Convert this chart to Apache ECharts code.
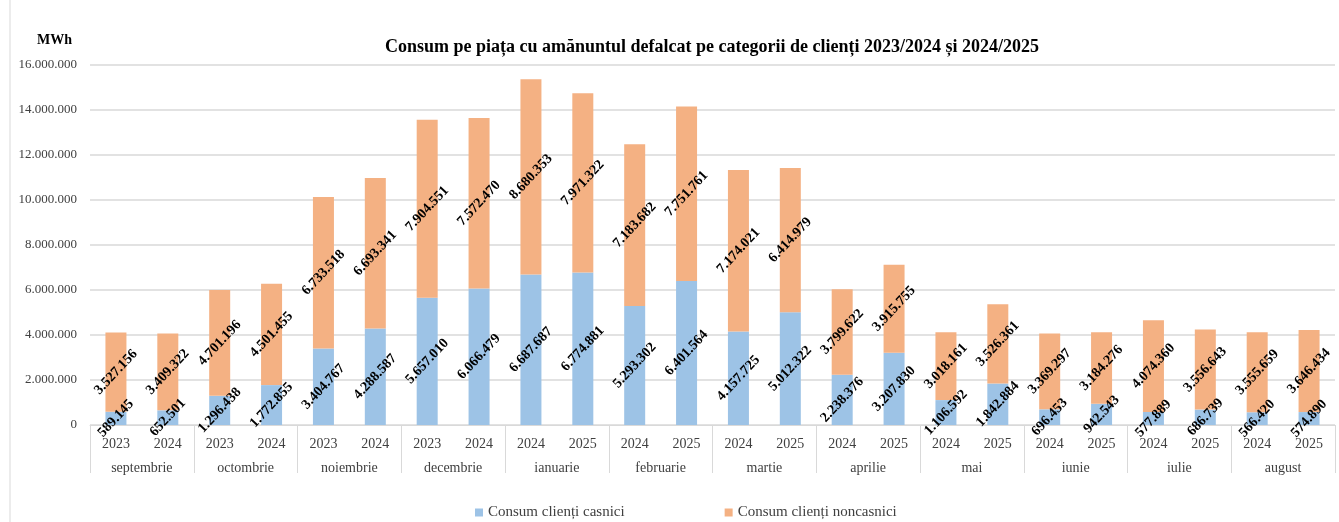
<!DOCTYPE html>
<html>
<head>
<meta charset="utf-8">
<script src="https://cdn.jsdelivr.net/npm/echarts@6/dist/echarts.min.js"></script>
<style>
  html, body { margin: 0; padding: 0; background: #fff; }
  #chart { width: 1339px; height: 522px; }
</style>
</head>
<body>
<div id="chart"></div>
<script>
const years = ["2023", "2024", "2023", "2024", "2023", "2024", "2023", "2024",
  "2024", "2025", "2024", "2025", "2024", "2025", "2024", "2025",
  "2024", "2025", "2024", "2025", "2024", "2025", "2024", "2025"];
const months = ["septembrie", "octombrie", "noiembrie", "decembrie", "ianuarie", "februarie",
  "martie", "aprilie", "mai", "iunie", "iulie", "august"];
// consum clienti casnici (MWh)
const casnici = [589145, 652501, 1296438, 1772855, 3404767, 4288587, 5657010, 6066479,
  6687687, 6774881, 5293302, 6401564, 4157725, 5012322, 2238376, 3207830,
  1106592, 1842884, 696453, 942543, 577889, 686739, 566420, 574890];
// consum clienti noncasnici (MWh)
const noncasnici = [3527156, 3409322, 4701196, 4501455, 6733518, 6693341, 7904551, 7572470,
  8680353, 7971322, 7183682, 7751761, 7174021, 6414979, 3799622, 3915755,
  3018161, 3526361, 3369297, 3184276, 4074360, 3556643, 3555659, 3646434];
const yTicks = [0, 2000000, 4000000, 6000000, 8000000, 10000000, 12000000, 14000000, 16000000];

const serif = "'Liberation Serif', 'Times New Roman', serif";

// 1234567 -> 1.234.567
function fmt(v) {
  return String(v).replace(/\B(?=(\d{3})+(?!\d))/g, ".");
}

const chart = echarts.init(document.getElementById("chart"));

const barLabel = {
  show: true,
  position: "inside",
  rotate: 47,
  fontFamily: serif,
  fontWeight: "bold",
  fontSize: 14,
  color: "#000",
  formatter: (p) => fmt(p.value),
};

chart.setOption({
  backgroundColor: "#fff",
  animation: false,
  title: {
    text: "Consum pe piața cu amănuntul defalcat pe categorii de clienți 2023/2024 și 2024/2025",
    left: 380,
    top: 33,
    textStyle: { fontFamily: serif, fontWeight: "bold", fontSize: 18, color: "#000" },
  },
  graphic: [
    {
      type: "text",
      left: 37,
      top: 33,
      style: { text: "MWh", font: "bold 14px " + serif, fill: "#000" },
    },
    {
      type: "line",
      shape: { x1: 10, y1: 0, x2: 10, y2: 522 },
      style: { stroke: "#d9d9d9", lineWidth: 1 },
    },
  ],
  legend: {
    left: 470,
    top: 500,
    itemWidth: 8,
    itemHeight: 8,
    itemGap: 100,
    icon: "rect",
    textStyle: { fontFamily: serif, fontSize: 15, color: "#404040" },
    data: ["Consum clienți casnici", "Consum clienți noncasnici"],
  },
  grid: { left: 90, right: 4, top: 65, bottom: 97, containLabel: false },
  xAxis: [
    {
      type: "category",
      data: years,
      axisLine: { lineStyle: { color: "#d9d9d9", width: 1 } },
      axisTick: { show: false },
      axisLabel: { margin: 12, fontFamily: serif, fontSize: 14, color: "#404040", interval: 0 },
    },
    {
      type: "category",
      data: months,
      position: "bottom",
      axisLine: { show: false },
      axisTick: { show: true, length: 48, lineStyle: { color: "#d9d9d9", width: 1 } },
      axisLabel: { margin: 36, fontFamily: serif, fontSize: 14, color: "#404040", interval: 0 },
    },
  ],
  yAxis: {
    type: "value",
    min: yTicks[0],
    max: yTicks[yTicks.length - 1],
    interval: yTicks[1] - yTicks[0],
    axisLine: { show: false },
    axisTick: { show: false },
    splitLine: { lineStyle: { color: "#d9d9d9", width: 1.5 } },
    axisLabel: { margin: 13, fontFamily: serif, fontSize: 13, color: "#404040", formatter: fmt },
  },
  series: [
    {
      name: "Consum clienți casnici",
      type: "bar",
      stack: "total",
      xAxisIndex: 0,
      barWidth: 21,
      data: casnici,
      itemStyle: { color: "#9DC3E6" },
      label: barLabel,
    },
    {
      name: "Consum clienți noncasnici",
      type: "bar",
      stack: "total",
      xAxisIndex: 0,
      barWidth: 21,
      data: noncasnici,
      itemStyle: { color: "#F4B183" },
      label: barLabel,
    },
  ],
});
</script>
</body>
</html>
